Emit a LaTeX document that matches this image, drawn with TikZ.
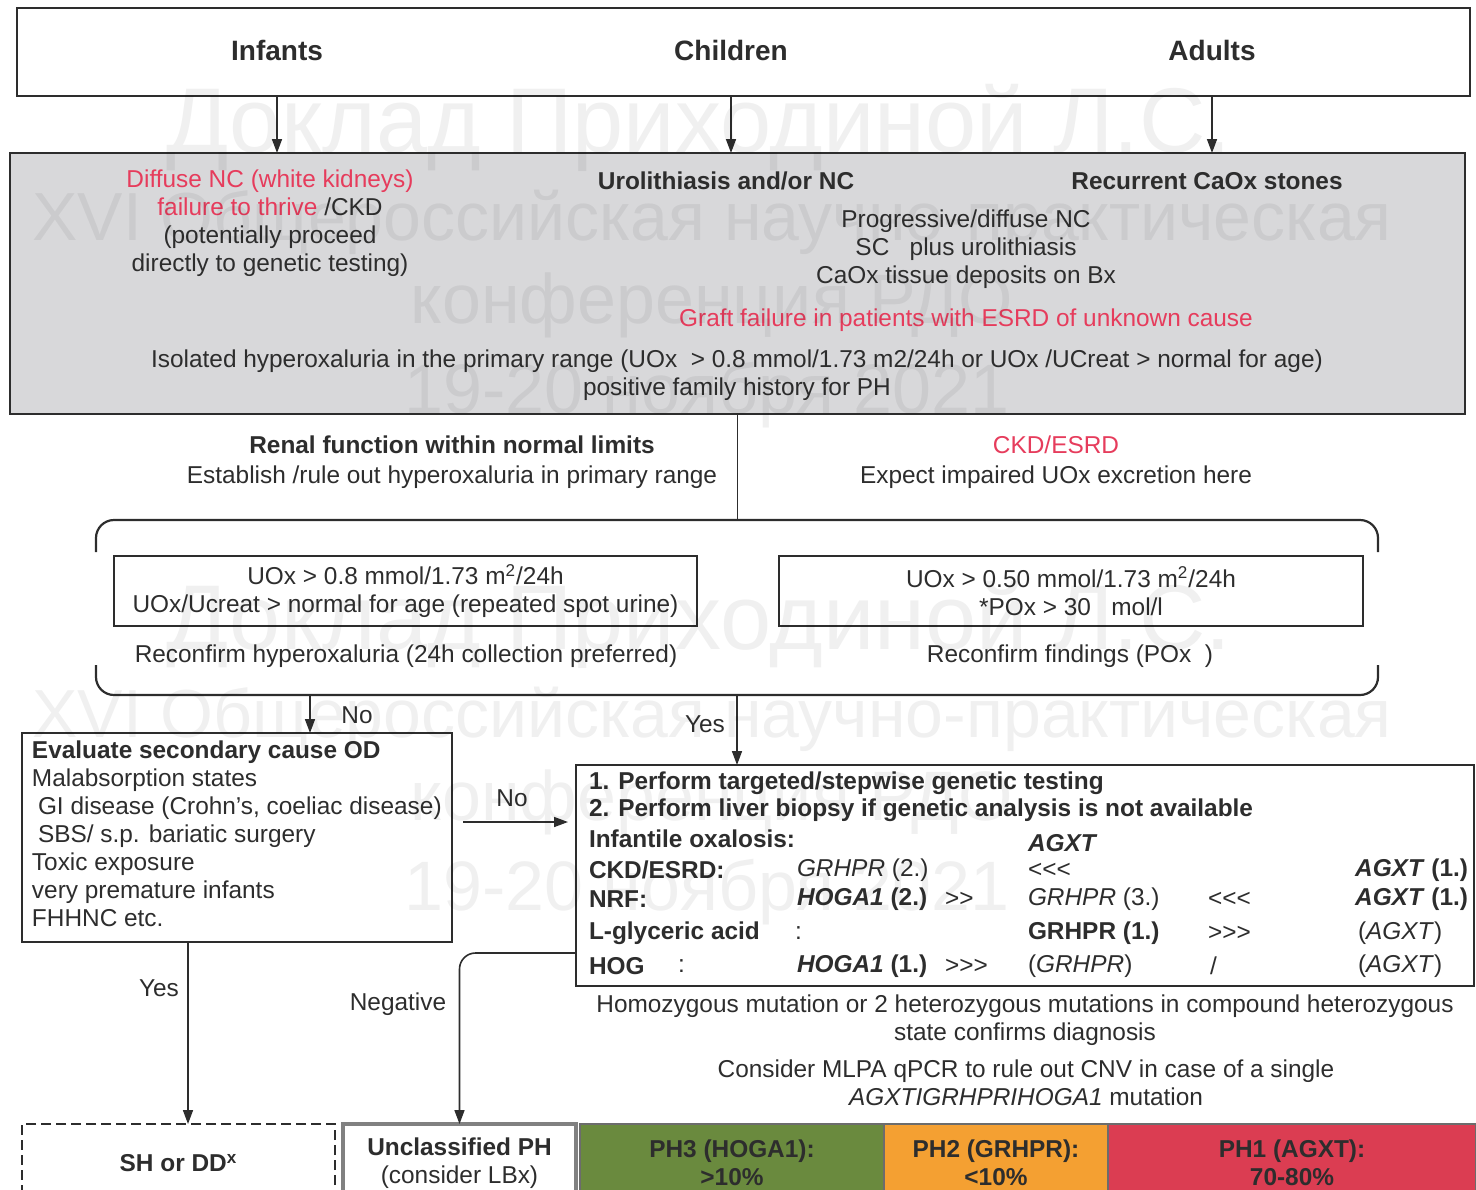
\documentclass[tikz,border=0pt]{standalone}
\usepackage{fontspec}
\setmainfont{Liberation Sans}
\newfontfamily\wmfont{Liberation Sans}
\usepackage{xcolor}
\usepackage{tikz}
\usetikzlibrary{arrows.meta, positioning, calc}
\definecolor{ink}{RGB}{45,45,45}
\definecolor{boxgray}{RGB}{216,216,218}
\definecolor{alertred}{RGB}{230,60,92}
\definecolor{phgreen}{RGB}{106,138,62}
\definecolor{phorange}{RGB}{244,160,50}
\definecolor{phred}{RGB}{219,61,82}
\newcommand{\diagfont}{\fontsize{12.2}{14}\selectfont}
\newcommand{\headfont}{\fontsize{14}{16}\selectfont\bfseries}

\begin{document}
\begin{tikzpicture}[x=0.5pt, y=-0.5pt,
  every node/.style={font=\diagfont, text=ink, inner sep=0pt, outer sep=0pt},
  arr/.style={-{Triangle[length=7pt, width=5pt]}, line width=0.8pt, draw=ink},
  frame/.style={draw=ink, line width=1.2pt},
  bold/.style={font=\diagfont\bfseries},
  gtext/.style={anchor=west},
  phbox/.style={draw=ink!70, line width=1pt, minimum height=39pt,
                font=\diagfont\bfseries, align=center},
  wmark/.style={text=black, opacity=0.06}
]
\clip (0,0) rectangle (1476,1189);

% Age groups
\node[frame, minimum width=726.5pt, minimum height=44pt] (ages) at (743.5,52) {};
\node[font=\headfont] (infants) at (277,50) {Infants};
\node[font=\headfont] (children) at (731,50) {Children};
\node[font=\headfont] (adults) at (1212,50) {Adults};

% Screening box
\node[frame, fill=boxgray, minimum width=727.5pt, minimum height=130.5pt] (screen) at (737.5,283.5) {};
\node[align=center] (infsigns) at (270,223.5)
  {{\color{alertred}Diffuse NC (white kidneys)}\\
   {\color{alertred}failure to thrive} /CKD\\
   (potentially proceed\\
   directly to genetic testing)};
\node[bold] (urolith) at (726,181) {Urolithiasis and/or NC};
\node[bold] (recurrent) at (1207,181) {Recurrent CaOx stones};
\node[align=center] (progress) at (966,249)
  {Progressive/diffuse NC\\
   SC\ \ \ plus urolithiasis\\
   CaOx tissue deposits on Bx};
\node[text=alertred] (graft) at (966,320) {Graft failure in patients with ESRD of unknown cause};
\node[align=center] (isolated) at (737,375.5)
  {Isolated hyperoxaluria in the primary range (UOx\ \ > 0.8 mmol/1.73 m2/24h or UOx /UCreat > normal for age)\\
   positive family history for PH};

\draw[arr] (infants |- ages.south) -- (infants |- screen.north);
\draw[arr] (children |- ages.south) -- (children |- screen.north);
\draw[arr] (adults |- ages.south) -- (adults |- screen.north);

% Renal function split
\node[align=center] (normalrf) at (452,462)
  {\textbf{Renal function within normal limits}\\[1pt]
   Establish /rule out hyperoxaluria in primary range};
\node[align=center] (ckdrf) at (1056,462)
  {{\color{alertred}CKD/ESRD}\\[1pt]
   Expect impaired UOx excretion here};

% Reconfirm bracket
\node[minimum width=641pt, minimum height=87.5pt] (confirm) at (737,607.5) {};
\draw[draw=ink, line width=1.1pt, rounded corners=9pt]
  ([yshift=-16pt]confirm.north west) |- (confirm.north) -| ([yshift=-16pt]confirm.north east);
\draw[draw=ink, line width=1.1pt, rounded corners=9pt]
  ([yshift=15pt]confirm.south west) |- (confirm.south) -| ([yshift=15pt]confirm.south east);
\draw[draw=ink, line width=0.9pt] (screen.south) -- (screen.south |- confirm.north);

\node[draw=ink, line width=0.9pt, minimum width=291.5pt, minimum height=35pt, align=center] (uoxnorm) at (405.5,591)
  {UOx > 0.8 mmol/1.73 m\textsuperscript{2}/24h\\
   UOx/Ucreat > normal for age (repeated spot urine)};
\node[draw=ink, line width=0.9pt, minimum width=292pt, minimum height=35pt, align=center] (uoxckd) at (1071,591)
  {UOx > 0.50 mmol/1.73 m\textsuperscript{2}/24h\\
   *POx > 30\ \ \ mol/l};
\node (reconfirmhyp) at (406,656) {Reconfirm hyperoxaluria (24h collection preferred)};
\node (reconfirmfind) at (1070,656) {Reconfirm findings (POx\ \ )};

% Secondary causes
\node[frame, minimum width=215pt, minimum height=104.5pt] (evalbox) at (237,837.5) {};
\node[anchor=north west, align=left] (evaltext) at (32,741)
  {\textbf{Evaluate secondary cause OD}\\
   Malabsorption states\\
   \hspace*{3pt}GI disease (Crohn’s, coeliac disease)\\
   \hspace*{3pt}SBS/ s.p. bariatic surgery\\
   Toxic exposure\\
   very premature infants\\
   FHHNC etc.};

% Genetic testing
\node[frame, minimum width=449pt, minimum height=110.5pt] (gene) at (1025,875.5) {};
\node[gtext, bold] (step1) at (589,783) {1. Perform targeted/stepwise genetic testing};
\node[gtext, bold] (step2) at (589,810) {2. Perform liver biopsy if genetic analysis is not available};
\node[gtext, bold] (infox) at (589,839) {Infantile oxalosis:};
\node[gtext, bold] (infox-g) at (1028,843) {\itshape AGXT};
\node[gtext, bold] (ckd) at (589,870) {CKD/ESRD:};
\node[gtext] (ckd-a) at (797,870) {\textit{GRHPR} (2.)};
\node[gtext] (ckd-b) at (1028,870) {<{}<{}<};
\node[anchor=east, bold] (ckd-c) at (1468,870) {\textit{AGXT} (1.)};
\node[gtext, bold] (nrf) at (589,899) {NRF:};
\node[gtext, bold] (nrf-a) at (797,899) {\textit{HOGA1} (2.)};
\node[gtext] (nrf-b) at (945,899) {>{}>};
\node[gtext] (nrf-c) at (1028,899) {\textit{GRHPR} (3.)};
\node[gtext] (nrf-d) at (1208,899) {<{}<{}<};
\node[anchor=east, bold] (nrf-e) at (1468,899) {\textit{AGXT} (1.)};
\node[gtext, bold] (lgly) at (589,933) {L-glyceric acid};
\node[gtext] (lgly-a) at (795,933) {:};
\node[gtext, bold] (lgly-b) at (1028,933) {GRHPR (1.)};
\node[gtext] (lgly-c) at (1208,933) {>{}>{}>};
\node[gtext] (lgly-d) at (1358,933) {(\textit{AGXT})};
\node[gtext, bold] (hog) at (589,966) {HOG};
\node[gtext] (hog-a) at (678,966) {:};
\node[gtext, bold] (hog-b) at (797,966) {\textit{HOGA1} (1.)};
\node[gtext] (hog-c) at (945,966) {>{}>{}>};
\node[gtext] (hog-d) at (1028,966) {(\textit{GRHPR})};
\node[gtext] (hog-e) at (1210,966) {/};
\node[gtext] (hog-f) at (1358,966) {(\textit{AGXT})};

\node[align=center] (confirms) at (1025,1020.5)
  {Homozygous mutation or 2 heterozygous mutations in compound heterozygous\\
   state confirms diagnosis};
\node[align=center] (mlpa) at (1026,1082.5)
  {Consider MLPA qPCR to rule out CNV in case of a single\\
   \textit{AGXTIGRHPRIHOGA1} mutation};

% Outcomes
\node[draw=ink, line width=1.4pt, dash pattern=on 5pt off 2.5pt, minimum width=156.5pt,
      minimum height=39pt, font=\diagfont\bfseries] (shdd) at (178.5,1163) {SH or DD\textsuperscript{x}};
\node[phbox, fill=white, draw=ink!60, line width=2pt, minimum width=116.5pt] (unclass) at (459.5,1163)
  {Unclassified PH\\\mdseries(consider LBx)};
\node[phbox, fill=phgreen, minimum width=152pt] (ph3) at (732,1163) {PH3 (HOGA1):\\>10\%};
\node[phbox, fill=phorange, minimum width=112pt] (ph2) at (996,1163) {PH2 (GRHPR):\\<10\%};
\node[phbox, fill=phred, minimum width=184pt] (ph1) at (1292,1163) {PH1 (AGXT):\\70-80\%};

% Connectors
\coordinate (nosplit) at (310,695);
\coordinate (yessplit) at (737,695);
\draw[arr] (nosplit) -- (nosplit |- evalbox.north);
\draw[arr] (yessplit) -- (yessplit |- gene.north);
\node (lblno1) at (357,715) {No};
\node (lblyes1) at (705,724) {Yes};

\coordinate (noright) at ([yshift=7.75pt]evalbox.east);
\draw[arr, shorten <=5.5pt, shorten >=4pt] (noright) -- (noright -| gene.west);
\node (lblno2) at (512,798) {No};

\coordinate (yesdrop) at ([xshift=-24.5pt]evalbox.south);
\draw[arr] (yesdrop) -- (yesdrop |- shdd.north);
\node (lblyes2) at (159,988) {Yes};

\coordinate (negstart) at ([yshift=-38.75pt]gene.west);
\draw[arr, rounded corners=8pt] (negstart) -| (unclass.north);
\node (lblneg) at (398,1004) {Negative};

% Watermark
\foreach \yy/\k in {0/1, 497/2} {
  \node[wmark, font=\wmfont\fontsize{46}{46}\selectfont] (wm-a-\k) at (699,{128+\yy}) {Доклад Приходиной Л.С.};
  \node[wmark, font=\wmfont\fontsize{34}{34}\selectfont] (wm-b-\k) at (712,{222+\yy}) {XVI Общероссийская научно-практическая};
  \node[wmark, font=\wmfont\fontsize{35}{35}\selectfont] (wm-c-\k) at (712,{305+\yy}) {конференция РДО};
  \node[wmark, font=\wmfont\fontsize{35}{35}\selectfont] (wm-d-\k) at (707,{395+\yy}) {19-20 ноября 2021};
}
\end{tikzpicture}
\end{document}
